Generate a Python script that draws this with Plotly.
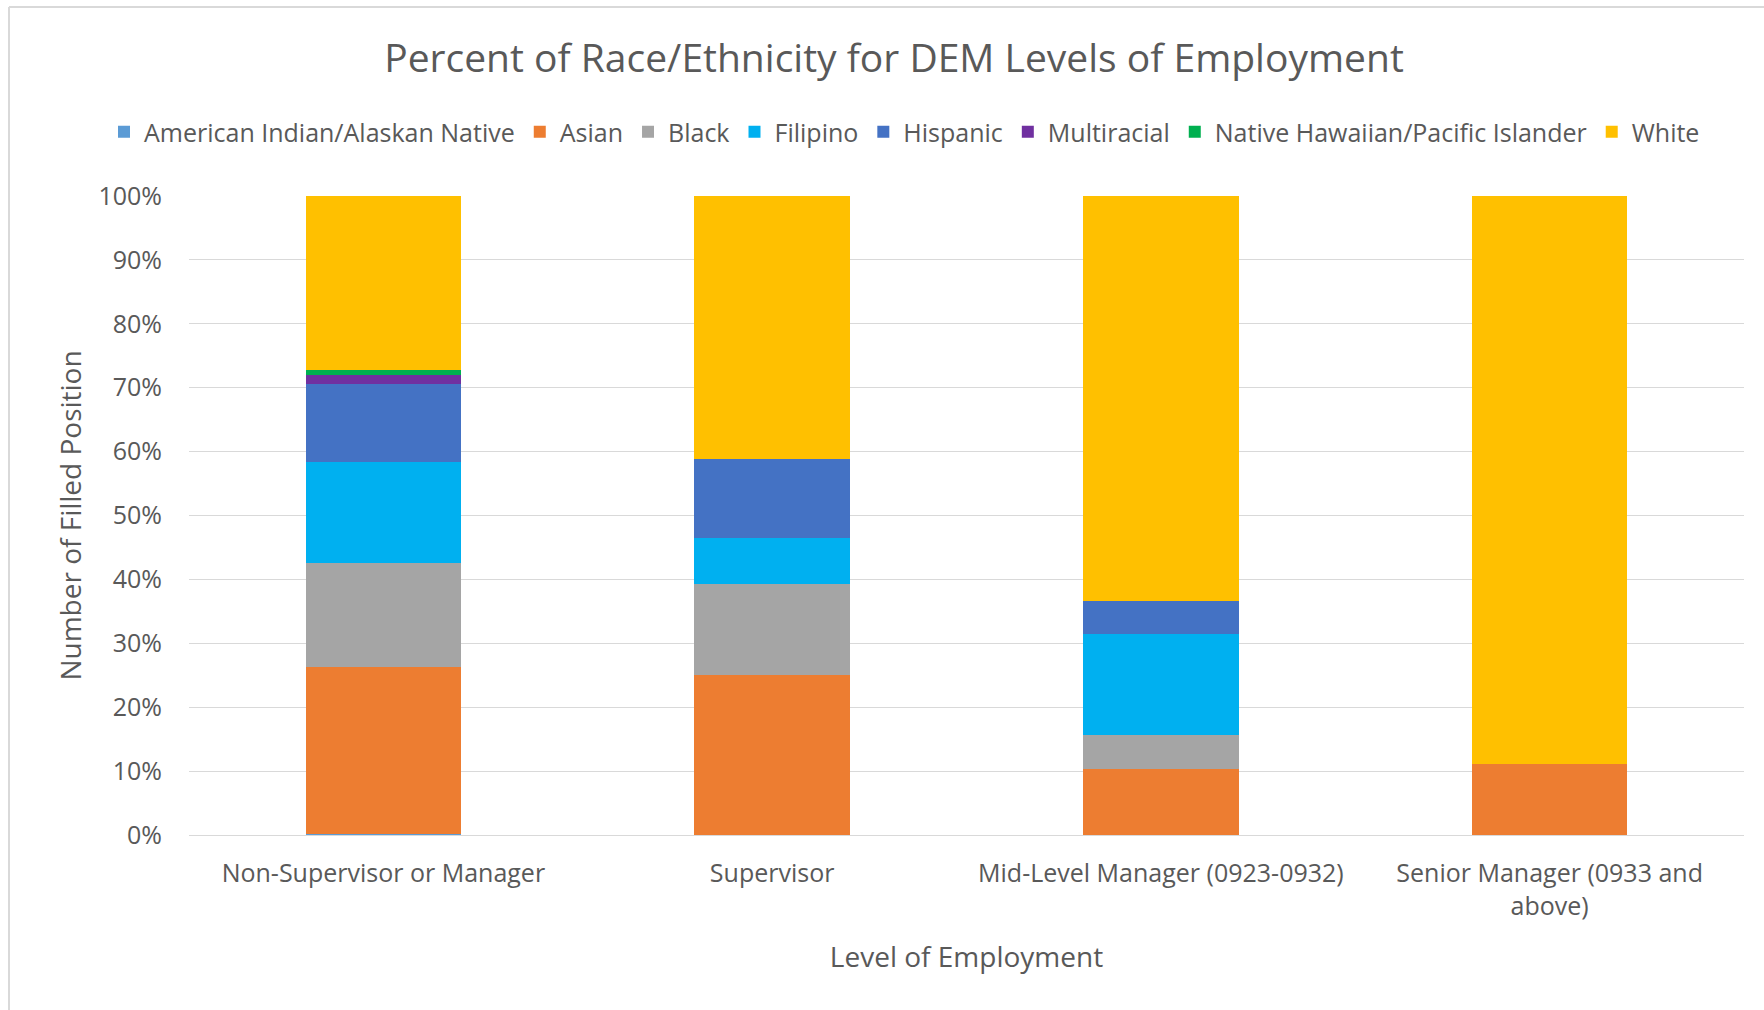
import plotly.graph_objects as go

categories = ["Non-Supervisor or Manager", "Supervisor", "Mid-Level Manager (0923-0932)",
              "Senior Manager (0933 and<br>above)"]
series_names = ["American Indian/Alaskan Native", "Asian", "Black", "Filipino", "Hispanic",
                "Multiracial", "Native Hawaiian/Pacific Islander", "White"]
american_indian = [0.2, 0.0, 0.0, 0.0]
asian = [26.1, 25.0, 10.4, 11.1]
black = [16.2, 14.3, 5.3, 0.0]
filipino = [15.8, 7.2, 15.8, 0.0]
hispanic = [12.3, 12.3, 5.1, 0.0]
multiracial = [1.4, 0.0, 0.0, 0.0]
nhpi = [0.8, 0.0, 0.0, 0.0]
white = [27.2, 41.2, 63.4, 88.9]
tick_vals = [0, 10, 20, 30, 40, 50, 60, 70, 80, 90, 100]
tick_text = ["0%", "10%", "20%", "30%", "40%", "50%", "60%", "70%", "80%", "90%", "100%"]

series_values = [american_indian, asian, black, filipino, hispanic, multiracial, nhpi, white]
colors = ["#5B9BD5", "#ED7D31", "#A5A5A5", "#00B0F0", "#4472C4", "#7030A0", "#00B050", "#FFC000"]

FONT = "Open Sans"
TXT = "#595959"

fig = go.Figure()
for name, vals, col in zip(series_names, series_values, colors):
    fig.add_trace(go.Bar(name=name, x=categories, y=vals, marker=dict(color=col, line=dict(width=0))))

W, H = 1764, 1010
L, R, T, B = 189, 1744, 196, 835
pw, ph = R - L, B - T

def px_x(p):
    return (p - L) / pw

def px_y(p):
    return (B - p) / ph

fig.update_layout(
    width=W, height=H,
    barmode="stack", bargap=0.6,
    paper_bgcolor="white", plot_bgcolor="white",
    margin=dict(l=L, r=W - R, t=T, b=H - B, autoexpand=False),
    font=dict(family=FONT, color=TXT, size=25),
    title=dict(text="Percent of Race/Ethnicity for DEM Levels of Employment",
               x=894 / W, xanchor="center", y=1 - 58 / H, yanchor="middle",
               font=dict(size=39, color=TXT, family=FONT)),
    legend=dict(orientation="h", x=px_x(104), xanchor="left", y=px_y(132), yanchor="middle",
                font=dict(size=25, color=TXT), traceorder="normal", itemwidth=30,
                bgcolor="rgba(0,0,0,0)"),
    xaxis=dict(showgrid=False, showline=False, ticks="", tickfont=dict(size=25, color=TXT),
               ticklabelstandoff=21,
               title=dict(text="Level of Employment", font=dict(size=28, color=TXT), standoff=26)),
    yaxis=dict(range=[0, 100], tickvals=tick_vals, ticktext=tick_text, showgrid=True,
               gridcolor="#D9D9D9", gridwidth=1, zeroline=True, zerolinecolor="#D9D9D9",
               zerolinewidth=1, showline=False, ticks="", ticklabelstandoff=26,
               tickfont=dict(size=25, color=TXT),
               title=dict(text="Number of Filled Position", font=dict(size=28, color=TXT), standoff=8)),
    shapes=[
        dict(type="line", xref="paper", yref="paper", x0=px_x(9), x1=px_x(1764), y0=px_y(7), y1=px_y(7),
             line=dict(color="#D9D9D9", width=2)),
        dict(type="line", xref="paper", yref="paper", x0=px_x(9), x1=px_x(9), y0=px_y(7), y1=px_y(1010),
             line=dict(color="#D9D9D9", width=2)),
    ],
)

fig.write_html("out.html")
